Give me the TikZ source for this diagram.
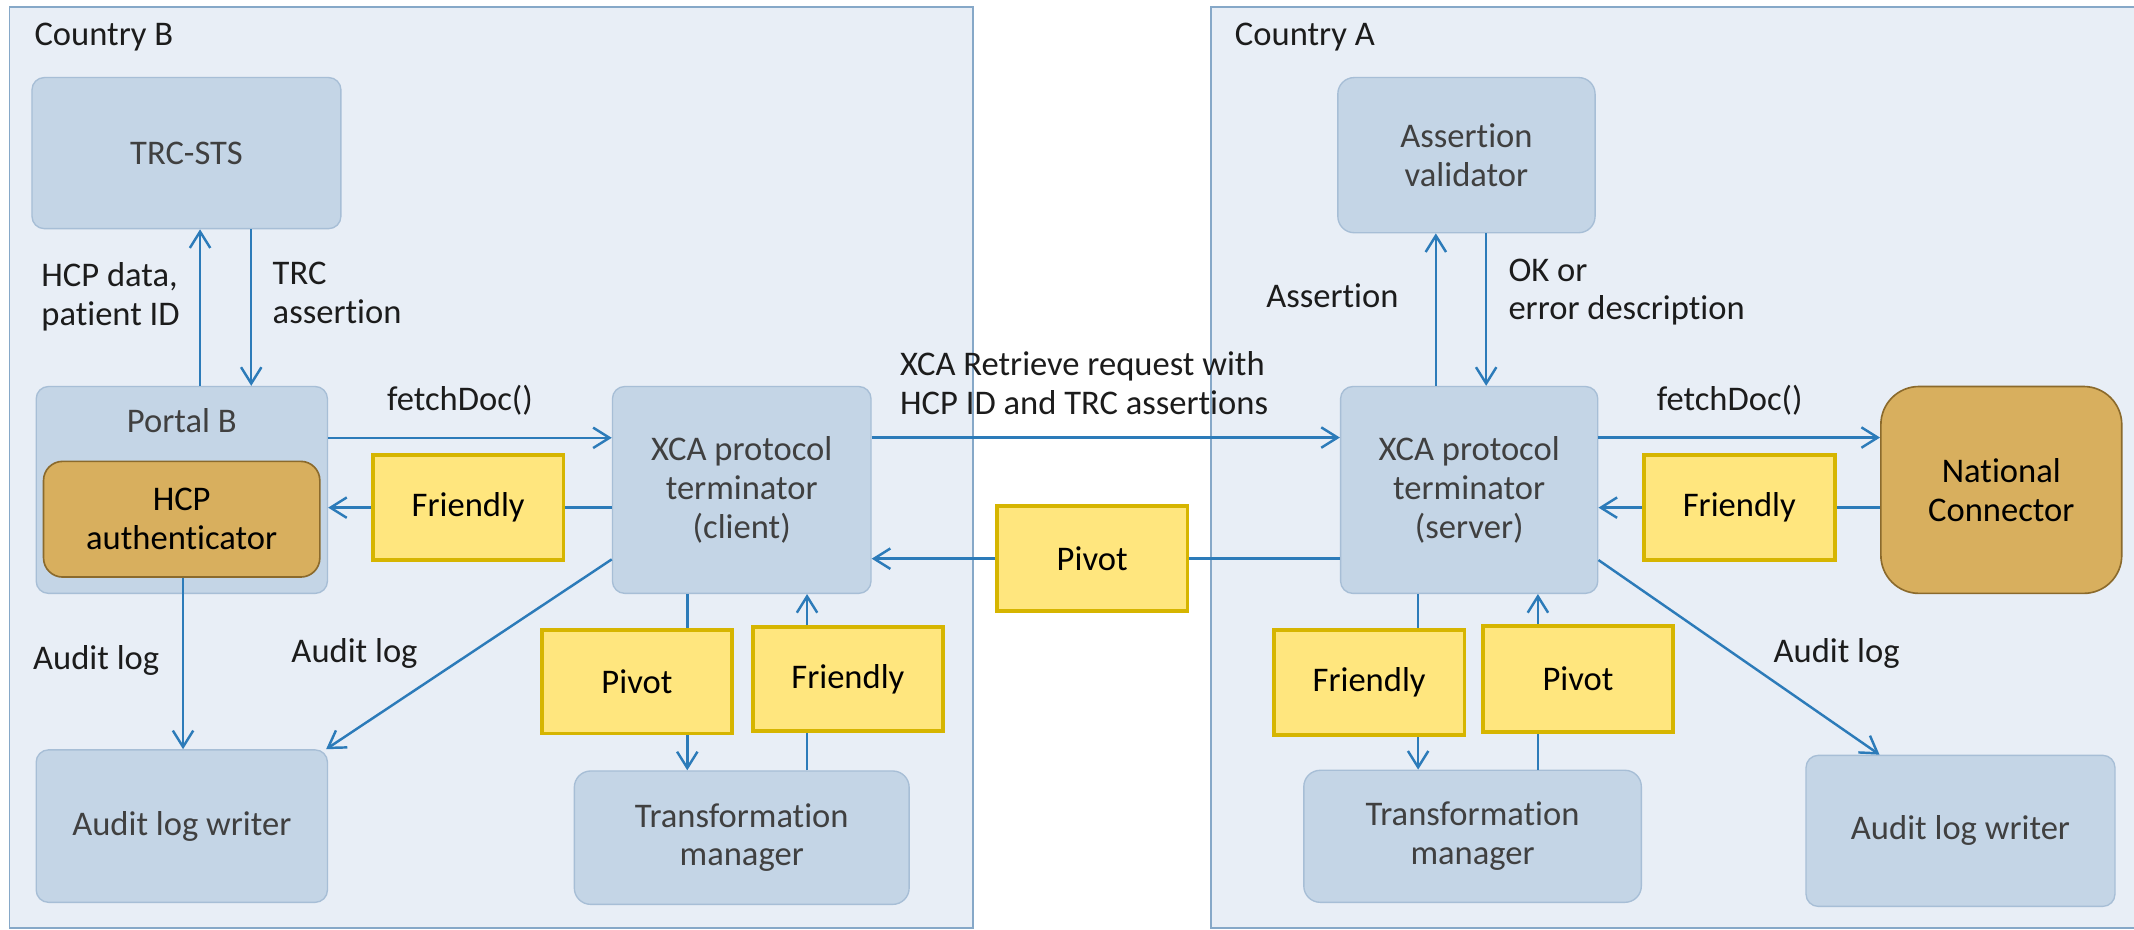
\documentclass[tikz,border=0pt]{standalone}
\usepackage{fontspec}
\setmainfont{Carlito}[Ligatures=NoCommon]
\usetikzlibrary{arrows.meta,calc}

\definecolor{framefill}{HTML}{E8EEF6}
\definecolor{framedraw}{HTML}{86A8C8}
\definecolor{boxfill}{HTML}{C4D5E6}
\definecolor{boxdraw}{HTML}{A7BED6}
\definecolor{boxtext}{HTML}{404040}
\definecolor{notefill}{HTML}{FFE67E}
\definecolor{notedraw}{HTML}{D6B500}
\definecolor{brownfill}{HTML}{D8AF5E}
\definecolor{browndraw}{HTML}{8B6A2C}
\definecolor{linkblue}{HTML}{2C7BB9}
\definecolor{labeltext}{HTML}{1C1C1C}

\begin{document}
\begin{tikzpicture}[
  x=0.5pt, y=-0.5pt,
  font=\fontsize{12.7}{14.2}\selectfont,
  region/.style={draw=framedraw, fill=framefill, line width=0.7pt},
  comp/.style={draw=boxdraw, fill=boxfill, text=boxtext, rounded corners=4.5pt,
    align=center, inner sep=0pt, line width=0.5pt},
  softcomp/.style={comp, rounded corners=6pt},
  native/.style={draw=browndraw, fill=brownfill, text=black, align=center,
    inner sep=0pt, line width=0.6pt},
  fmt/.style={draw=notedraw, fill=notefill, text=black, inner sep=0pt,
    line width=1.4pt, minimum width=70pt, minimum height=38.5pt},
  lbl/.style={text=labeltext, inner sep=0pt, align=left},
  ln/.style={draw=linkblue, line width=0.9pt},
  arr/.style={ln, -{Straight Barb[length=6pt, width=7.5pt, line width=0.9pt]}}
]
\useasboundingbox (0,0) rectangle (1568,683);

% the two country regions
\path[region] (7,5) rectangle (715,682);
\path[region] (890,5) rectangle (1590,682);
\node[lbl, anchor=west] (cB) at (25,27) {Country B};
\node[lbl, anchor=west] (cA) at (907,27) {Country A};

% ---- Country B components
\node[comp, minimum width=113.5pt, minimum height=55.5pt] (trc) at (137,112.5) {TRC-STS};
\node[comp, minimum width=107pt, minimum height=76pt] (portal) at (133.6,360) {};
\node[text=boxtext, inner sep=0pt] (portallbl) at (133.6,309) {Portal B};
\node[native, rounded corners=7pt, minimum width=101.5pt, minimum height=42.5pt] (hcp) at (133.5,381.5) {HCP\\authenticator};
\node[comp, minimum width=95pt, minimum height=76pt] (client) at (545,360) {XCA protocol\\terminator\\(client)};
\node[fmt] (fL) at (344,373) {Friendly};
\node[comp, minimum width=107pt, minimum height=56pt] (alwL) at (133.6,607) {Audit log writer};
\node[fmt, minimum height=38pt] (pCL) at (468,501) {Pivot};
\node[fmt, minimum height=38pt] (fCL) at (623,499) {Friendly};
\node[softcomp, minimum width=123pt, minimum height=49pt] (tmL) at (545,615.5) {Transformation\\manager};

% ---- between the countries
\node[fmt] (pM) at (802.5,410.5) {Pivot};

% ---- Country A components
\node[softcomp, minimum width=94.5pt, minimum height=57pt] (av) at (1077.5,114) {Assertion\\validator};
\node[comp, minimum width=94.5pt, minimum height=76pt] (server) at (1079.5,360) {XCA protocol\\terminator\\(server)};
\node[fmt] (fR) at (1278,373) {Friendly};
\node[native, rounded corners=14pt, minimum width=88.5pt, minimum height=76pt] (nc) at (1470.5,360) {National\\Connector};
\node[fmt] (fSB) at (1006,501.5) {Friendly};
\node[fmt, minimum height=39pt] (pSB) at (1159.5,499) {Pivot};
\node[softcomp, minimum width=124pt, minimum height=48.5pt] (tmR) at (1082,614.5) {Transformation\\manager};
\node[comp, minimum width=113.5pt, minimum height=55.5pt] (alwR) at (1440.5,610.5) {Audit log writer};

% ---- connectors, Country B
\draw[arr] ([shift={(13.4,0)}]portal.north) -- ([shift={(13.4,0)}]portal.north |- trc.south);
\draw[arr] ([shift={(51,0)}]portal.north |- trc.south) -- ([shift={(51,0)}]portal.north);
\draw[arr] ([shift={(0,-38.3)}]portal.east) -- ([shift={(0,-38.3)}]portal.east -| client.west);
\draw[ln] (client.west |- fL) -- (fL.east);
\draw[arr] (fL.west) -- (fL.west -| portal.east);
\draw[ln] ([shift={(37,0)}]pCL.north |- client.south) -- ([shift={(37,0)}]pCL.north);
\draw[arr] ([shift={(37,0)}]pCL.south) -- ([shift={(37,0)}]pCL.south |- tmL.north);
\draw[ln] ([shift={(-30,0)}]fCL.south |- tmL.north) -- ([shift={(-30,0)}]fCL.south);
\draw[arr] ([shift={(-30,0)}]fCL.north) -- ([shift={(-30,0)}]fCL.north |- client.south);
\draw[arr] ([shift={(1,0)}]hcp.south) -- ([shift={(1,0)}]hcp.south |- alwL.north);
\draw[arr] ([shift={(0,51)}]client.west) -- ([shift={(-1.5,0)}]alwL.north east);

% ---- connectors across the border
\draw[arr] ([shift={(0,-38.5)}]client.east) -- ([shift={(0,-38.5)}]client.east -| server.west);
\draw[ln] (server.west |- pM) -- (pM.east);
\draw[arr] (pM.west) -- (pM.west -| client.east);

% ---- connectors, Country A
\draw[arr] ([shift={(-24.5,0)}]server.north) -- ([shift={(-24.5,0)}]server.north |- av.south);
\draw[arr] ([shift={(12.5,0)}]server.north |- av.south) -- ([shift={(12.5,0)}]server.north);
\draw[arr] ([shift={(0,-38.5)}]server.east) -- ([shift={(0,-38.5)}]server.east -| nc.west);
\draw[ln] (nc.west |- fR) -- (fR.east);
\draw[arr] (fR.west) -- (fR.west -| server.east);
\draw[ln] ([shift={(36,0)}]fSB.north |- server.south) -- ([shift={(36,0)}]fSB.north);
\draw[arr] ([shift={(36,0)}]fSB.south) -- ([shift={(36,0)}]fSB.south |- tmR.north);
\draw[ln] ([shift={(-29.5,0)}]pSB.south |- tmR.north) -- ([shift={(-29.5,0)}]pSB.south);
\draw[arr] ([shift={(-29.5,0)}]pSB.north) -- ([shift={(-29.5,0)}]pSB.north |- server.south);
\draw[arr] ([shift={(0,51.5)}]server.east) -- ([shift={(-59.5,0)}]alwR.north);

% ---- connector labels
\node[lbl, anchor=west] (tHcpData) at (30,218) {HCP data,\\patient ID};
\node[lbl, anchor=west] (tTrc) at (200,215) {TRC\\assertion};
\node[lbl] (tFetchB) at (338,294) {fetchDoc()};
\node[lbl, anchor=west] (tXca) at (661,281.5) {XCA Retrieve request with\\HCP ID and TRC assertions};
\node[lbl] (tAuditB1) at (70.7,485.5) {Audit log};
\node[lbl] (tAuditB2) at (260.5,480) {Audit log};
\node[lbl] (tAssert) at (979,217) {Assertion};
\node[lbl, anchor=west] (tOk) at (1108,214.5) {OK or\\error description};
\node[lbl] (tFetchA) at (1271,294) {fetchDoc()};
\node[lbl] (tAuditA) at (1349.5,480) {Audit log};
\end{tikzpicture}
\end{document}
